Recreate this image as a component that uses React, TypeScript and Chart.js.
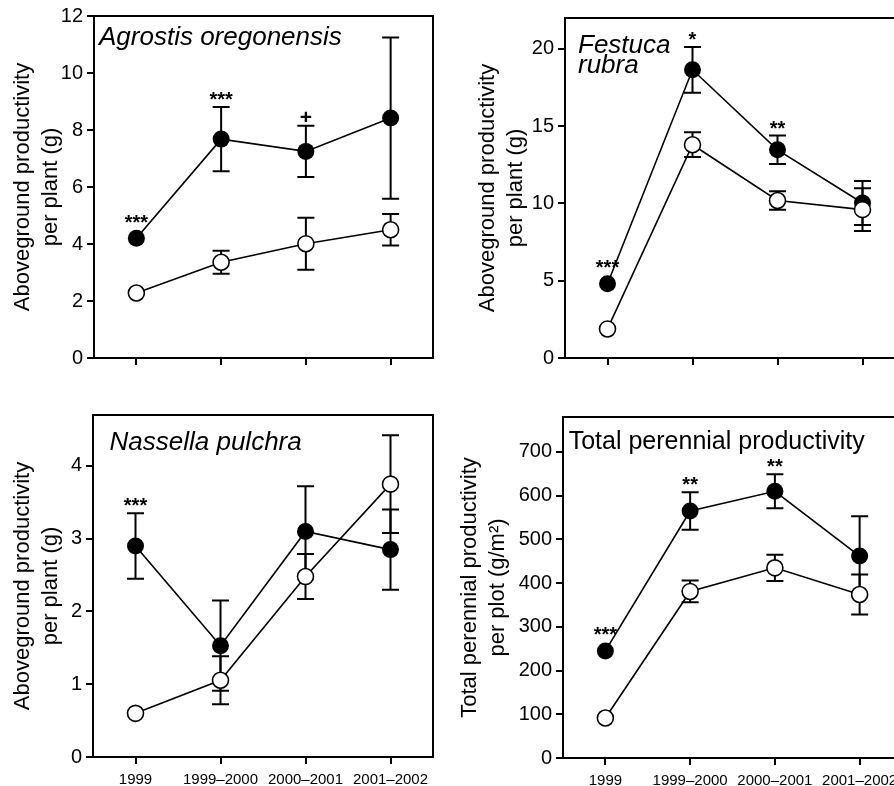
import React, { useEffect, useRef } from 'react';
import { Chart, registerables } from 'chart.js';

Chart.register(...registerables);

const FONT = "'Liberation Sans', Arial, Helvetica, sans-serif";

// ---------- data ----------
const categories = ['1999', '1999–2000', '2000–2001', '2001–2002'];

const agrostisFilled = [4.2, 7.68, 7.25, 8.42];
const agrostisFilledErr = [0, 1.13, 0.9, 2.83];
const agrostisOpen = [2.28, 3.36, 4.01, 4.5];
const agrostisOpenErr = [0, 0.4, 0.91, 0.55];
const agrostisSig = ['***', '***', '+', ''];
const agrostisTicks = [0, 2, 4, 6, 8, 10, 12];

const festucaFilled = [4.8, 18.65, 13.47, 10.03];
const festucaFilledErr = [0, 1.48, 0.92, 1.43];
const festucaOpen = [1.88, 13.8, 10.19, 9.6];
const festucaOpenErr = [0, 0.8, 0.6, 1.38];
const festucaSig = ['***', '*', '**', ''];
const festucaTicks = [0, 5, 10, 15, 20];

const nassellaFilled = [2.9, 1.53, 3.1, 2.85];
const nassellaFilledErr = [0.45, 0.62, 0.62, 0.55];
const nassellaOpen = [0.6, 1.055, 2.48, 3.75];
const nassellaOpenErr = [0, 0.33, 0.31, 0.67];
const nassellaSig = ['***', '', '', ''];
const nassellaTicks = [0, 1, 2, 3, 4];

const totalFilled = [245, 565, 610, 462];
const totalFilledErr = [0, 43, 39, 91];
const totalOpen = [91.5, 381, 435, 374];
const totalOpenErr = [0, 25, 30, 46];
const totalSig = ['***', '**', '**', ''];
const totalTicks = [0, 100, 200, 300, 400, 500, 600, 700];

const plantTitle = ['Aboveground productivity', 'per plant (g)'];
const plotTitle = ['Total perennial productivity', 'per plot (g/m²)'];

// ---------- panel layout ----------
type Panel = {
  key: string;
  left: number; top: number; width: number; height: number;
  area: { left: number; top: number; right: number; bottom: number };
  yMax: number; yTicks: number[];
  filled: number[]; filledErr: number[]; open: number[]; openErr: number[];
  sig: string[];
  yTitle: string[]; yTitlePad: number;
  name: string[]; italic: boolean; nameDx: number; nameDy: number; nameGap: number; nameSize: number;
  xLabels: boolean;
};

const panels: Panel[] = [
  {
    key: 'agrostis', left: 0, top: 0, width: 447, height: 393,
    area: { left: 94, top: 16, right: 433, bottom: 358 },
    yMax: 12, yTicks: agrostisTicks,
    filled: agrostisFilled, filledErr: agrostisFilledErr, open: agrostisOpen, openErr: agrostisOpenErr,
    sig: agrostisSig, yTitle: plantTitle, yTitlePad: 9,
    name: ['Agrostis oregonensis'], italic: true, nameDx: 5, nameDy: 28.5, nameGap: 20, nameSize: 26,
    xLabels: false,
  },
  {
    key: 'festuca', left: 447, top: 0, width: 470, height: 393,
    area: { left: 118, top: 18, right: 458, bottom: 358 },
    yMax: 22, yTicks: festucaTicks,
    filled: festucaFilled, filledErr: festucaFilledErr, open: festucaOpen, openErr: festucaOpenErr,
    sig: festucaSig, yTitle: plantTitle, yTitlePad: 27,
    name: ['Festuca', 'rubra'], italic: true, nameDx: 13, nameDy: 35, nameGap: 20, nameSize: 26,
    xLabels: false,
  },
  {
    key: 'nassella', left: 0, top: 393, width: 447, height: 393,
    area: { left: 93, top: 22, right: 433, bottom: 364 },
    yMax: 4.7, yTicks: nassellaTicks,
    filled: nassellaFilled, filledErr: nassellaFilledErr, open: nassellaOpen, openErr: nassellaOpenErr,
    sig: nassellaSig, yTitle: plantTitle, yTitlePad: 9,
    name: ['Nassella pulchra'], italic: true, nameDx: 16.5, nameDy: 35, nameGap: 20, nameSize: 26,
    xLabels: true,
  },
  {
    key: 'total', left: 447, top: 393, width: 470, height: 393,
    area: { left: 116, top: 24, right: 455, bottom: 365 },
    yMax: 780, yTicks: totalTicks,
    filled: totalFilled, filledErr: totalFilledErr, open: totalOpen, openErr: totalOpenErr,
    sig: totalSig, yTitle: plotTitle, yTitlePad: 9,
    name: ['Total perennial productivity'], italic: false, nameDx: 5.7, nameDy: 31.6, nameGap: 20, nameSize: 25,
    xLabels: true,
  },
];

const FILLED_R = 8.5;
const OPEN_R = 8;

function makeChart(canvas: HTMLCanvasElement, p: Panel) {
  const errors = [p.filledErr, p.openErr];

  const framePlugin = {
    id: 'frame',
    beforeDatasetsDraw(chart: any) {
      const { ctx, chartArea: a } = chart;
      ctx.save();
      ctx.strokeStyle = '#000';
      ctx.lineWidth = 2;
      ctx.strokeRect(a.left, a.top, a.right - a.left, a.bottom - a.top);
      ctx.restore();
    },
  };

  const errorPlugin = {
    id: 'errorBars',
    beforeDatasetsDraw(chart: any) {
      const { ctx } = chart;
      const ys = chart.scales.y;
      ctx.save();
      ctx.strokeStyle = '#000';
      ctx.lineWidth = 2;
      chart.data.datasets.forEach((ds: any, i: number) => {
        const meta = chart.getDatasetMeta(i);
        ds.data.forEach((v: number, j: number) => {
          const e = errors[i][j];
          if (!e) return;
          const x = meta.data[j].x;
          const y1 = ys.getPixelForValue(v + e);
          const y2 = ys.getPixelForValue(v - e);
          ctx.beginPath();
          ctx.moveTo(x, y1);
          ctx.lineTo(x, y2);
          ctx.moveTo(x - 8.5, y1);
          ctx.lineTo(x + 8.5, y1);
          ctx.moveTo(x - 8.5, y2);
          ctx.lineTo(x + 8.5, y2);
          ctx.stroke();
        });
      });
      ctx.restore();
    },
  };

  const textPlugin = {
    id: 'texts',
    afterDatasetsDraw(chart: any) {
      const { ctx, chartArea: a } = chart;
      const ys = chart.scales.y;
      const meta = chart.getDatasetMeta(0);
      ctx.save();
      ctx.fillStyle = '#000';
      ctx.textAlign = 'center';
      ctx.textBaseline = 'alphabetic';
      p.sig.forEach((s, j) => {
        if (!s) return;
        const v = p.filled[j];
        const e = p.filledErr[j];
        const x = meta.data[j].x;
        const top = Math.min(ys.getPixelForValue(v + e), ys.getPixelForValue(v) - FILLED_R);
        if (s === '+') {
          ctx.font = `bold 21px ${FONT}`;
          ctx.fillText(s, x, top - 2);
        } else {
          ctx.font = `bold 20px ${FONT}`;
          ctx.fillText(s, x, top - 1);
        }
      });
      ctx.textAlign = 'left';
      ctx.font = `${p.italic ? 'italic ' : ''}${p.nameSize}px ${FONT}`;
      p.name.forEach((line, k) => {
        ctx.fillText(line, a.left + p.nameDx, a.top + p.nameDy + k * p.nameGap);
      });
      ctx.restore();
    },
  };

  return new Chart(canvas, {
    type: 'line',
    data: {
      labels: categories,
      datasets: [
        {
          data: p.filled,
          order: 1,
          borderColor: '#000',
          borderWidth: 1.6,
          backgroundColor: '#000',
          pointBackgroundColor: '#000',
          pointBorderColor: '#000',
          pointBorderWidth: 0,
          pointRadius: FILLED_R,
          tension: 0,
          fill: false,
        },
        {
          data: p.open,
          order: 0,
          borderColor: '#000',
          borderWidth: 1.6,
          backgroundColor: '#fff',
          pointBackgroundColor: '#fff',
          pointBorderColor: '#000',
          pointBorderWidth: 1.6,
          pointRadius: OPEN_R,
          tension: 0,
          fill: false,
        },
      ],
    },
    options: {
      responsive: false,
      maintainAspectRatio: false,
      animation: false,
      events: [],
      layout: {
        padding: { left: 0, top: p.area.top, right: p.width - p.area.right, bottom: 0 },
      },
      plugins: {
        legend: { display: false },
        tooltip: { enabled: false },
        title: { display: false },
      },
      scales: {
        x: {
          type: 'category',
          offset: true,
          border: { display: false },
          grid: {
            display: true,
            drawOnChartArea: false,
            drawTicks: true,
            tickLength: 7,
            color: '#000',
            lineWidth: 2,
          },
          ticks: {
            display: p.xLabels,
            color: '#000',
            font: { family: FONT, size: 15 },
            padding: 7,
            maxRotation: 0,
            minRotation: 0,
            autoSkip: false,
          },
          afterFit: (scale: any) => {
            scale.height = p.height - p.area.bottom;
          },
        },
        y: {
          type: 'linear',
          min: 0,
          max: p.yMax,
          border: { display: false },
          grid: {
            display: true,
            drawOnChartArea: false,
            drawTicks: true,
            tickLength: 7,
            color: '#000',
            lineWidth: 2,
          },
          ticks: {
            color: '#000',
            font: { family: FONT, size: 20 },
            padding: 4,
          },
          afterBuildTicks: (scale: any) => {
            scale.ticks = p.yTicks.map((v) => ({ value: v }));
          },
          afterFit: (scale: any) => {
            scale.width = p.area.left;
          },
          title: {
            display: true,
            text: p.yTitle,
            color: '#000',
            font: { family: FONT, size: 22, lineHeight: 1.27 },
            padding: { top: p.yTitlePad, bottom: 0 },
          },
        },
      },
    },
    plugins: [framePlugin, errorPlugin, textPlugin],
  } as any);
}

function PanelCanvas({ p }: { p: Panel }) {
  const ref = useRef<HTMLCanvasElement | null>(null);
  useEffect(() => {
    if (!ref.current) return;
    const chart = makeChart(ref.current, p);
    return () => chart.destroy();
  }, [p]);
  return (
    <canvas
      ref={ref}
      width={p.width}
      height={p.height}
      style={{ position: 'absolute', left: p.left, top: p.top, width: p.width, height: p.height }}
    />
  );
}

export default function App() {
  return (
    <div
      style={{
        position: 'absolute',
        left: 0,
        top: 0,
        width: 894,
        height: 786,
        overflow: 'hidden',
        background: '#fff',
      }}
    >
      {panels.map((p) => (
        <PanelCanvas key={p.key} p={p} />
      ))}
    </div>
  );
}
